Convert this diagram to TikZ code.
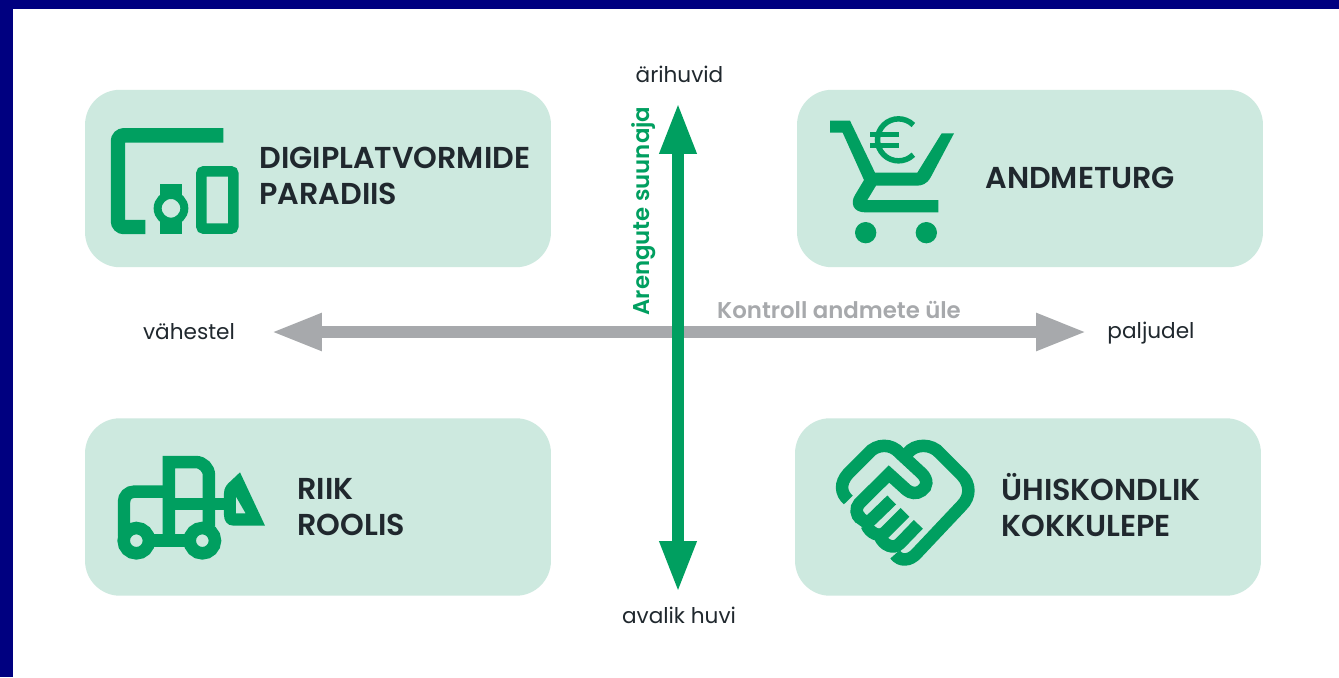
\documentclass[tikz,border=0pt]{standalone}
\usepackage{fontspec}
\setmainfont{Poppins}[BoldFont={Poppins SemiBold}]
\usetikzlibrary{arrows.meta}
\definecolor{framecol}{HTML}{000080}
\definecolor{panelcol}{HTML}{CDE9DF}
\definecolor{greencol}{HTML}{009F60}
\definecolor{greycol}{HTML}{A7A9AC}
\definecolor{inkcol}{HTML}{20282E}
\tikzset{
	panel/.style={fill=panelcol,rounded corners=0.7cm,minimum width=9.32cm,minimum height=3.55cm},
	title/.style={anchor=west,align=left,inner sep=0pt,text=inkcol,font=\fontsize{17.2}{20.5}\selectfont\bfseries},
	axislabel/.style={text=inkcol,font=\fontsize{12.3}{16}\selectfont},
	icon/.style={draw=greencol,line width=0.25cm},
	vaxis/.style={draw=greencol,line width=0.225cm,{Triangle[length=1.02cm,width=0.69cm]}-{Triangle[length=1.02cm,width=0.69cm]}},
	haxis/.style={draw=greycol,line width=0.245cm,{Triangle[length=1.02cm,width=0.69cm]}-{Triangle[length=1.02cm,width=0.69cm]}}
}
\begin{document}
\begin{tikzpicture}[x=0.02cm,y=-0.02cm]
	\useasboundingbox (0,0) rectangle (1339,677);
	\fill[framecol] (0,0) rectangle (1339,677);
	\fill[white] (13,9) rectangle (1339,677);

	\node[panel] (boxa) at (318,178.5) {};
	\node[panel] (boxb) at (1030,178.5) {};
	\node[panel] (boxc) at (318,507) {};
	\node[panel] (boxd) at (1028,507) {};

	\node[title] (titlea) at (259,176) {DIGIPLATVORMIDE\\PARADIIS};
	\node[title] (titleb) at (985,178) {ANDMETURG};
	\node[title] (titlec) at (297,507) {RIIK\\ROOLIS};
	\node[title] (titled) at (1001,505) {ÜHISKONDLIK\\KOKKULEPE};

	\node[axislabel] (top) at (679.5,74) {ärihuvid};
	\node[axislabel] (bottom) at (679,615) {avalik huvi};
	\node[axislabel] (left) at (189,332) {vähestel};
	\node[axislabel] (right) at (1151,333) {paljudel};

	\coordinate (hleft) at (271,332);
	\coordinate (hright) at (1087,332);
	\coordinate (vtop) at (678,103);
	\coordinate (vbottom) at (678,592);
	\draw[haxis] (hleft) -- (hright);
	\draw[vaxis] (vtop) -- (vbottom);

	\node[text=greycol,font=\fontsize{13}{16}\selectfont\bfseries] (hname) at (839,310) {Kontroll andmete üle};
	\node[text=greencol,rotate=90,font=\fontsize{13}{16}\selectfont\bfseries] (vname) at (644,211) {Arengute suunaja};

	% devices
	\begin{scope}[shift={(90,100)},x=0.00667cm,y=-0.00667cm]
		\draw[icon,line width=0.29cm,rounded corners=0.12cm] (400,106) -- (84,106) -- (84,381) -- (166,381);
		\fill[greencol] (211,253) rectangle (275,402);
		\draw[draw=greencol,fill=panelcol,line width=0.16cm] (243,325) circle (40);
		\draw[draw=greencol,line width=0.21cm,rounded corners=0.05cm] (334,214) rectangle (430,386);
	\end{scope}

	% cart
	\begin{scope}[shift={(810,100)},x=0.00667cm,y=-0.00667cm]
		\fill[greencol] (60,62) -- (120,62) -- (195,218) -- (322,218) -- (395,100) -- (432,100) -- (362,232) .. controls (350,253) and (335,257) .. (320,257) -- (198,257) -- (172,300) -- (385,300) -- (385,337) -- (165,337) .. controls (130,337) and (120,310) .. (135,285) -- (162,240) -- (98,98) -- (60,98) -- cycle;
		\fill[greencol] (167,398) circle (32) (349,398) circle (32);
		\draw[draw=greencol,line width=0.11cm] (310,75) arc (-45:-315:63);
		\draw[draw=greencol,line width=0.1cm] (180,103) -- (268,103) (180,135) -- (268,135);
	\end{scope}

	% truck
	\begin{scope}[shift={(100,440)},x=0.00667cm,y=-0.00667cm]
		\draw[icon] (207,300) -- (207,66) [rounded corners=0.27cm] -- (327,66) -- (327,260);
		\draw[icon,rounded corners=0.2cm] (207,155) -- (72,155) -- (72,290);
		\draw[icon] (207,192) -- (385,192) (110,301) -- (307,301);
		\draw[draw=greencol,fill=panelcol,line width=0.25cm] (109,302) circle (38) (307,302) circle (38);
		\fill[greencol,even odd rule] (420,97) -- (495,257) -- (400,257) .. controls (380,257) and (372,240) .. (372,225) -- (372,160) .. controls (372,145) and (380,135) .. (385,130) -- cycle (408,170) -- (437,220) -- (408,220) -- cycle;
	\end{scope}

	% handshake
	\begin{scope}[shift={(820,425)},x=0.00667cm,y=-0.00667cm]
		\draw[icon] (85,225) .. controls (62,205) and (58,175) .. (85,145) -- (145,85) .. controls (170,55) and (215,55) .. (240,85) -- (305,145) .. controls (325,165) and (322,185) .. (305,197) .. controls (290,208) and (272,205) .. (260,195) -- (207,147) -- (118,235) .. controls (105,250) and (108,270) .. (122,282);
		\draw[icon] (262,85) .. controls (285,55) and (335,55) .. (360,85) -- (425,150) .. controls (452,178) and (452,215) .. (425,242) -- (290,385) .. controls (270,408) and (240,410) .. (225,388);
		\draw[icon] (215,225) -- (155,283) .. controls (140,297) and (122,285) .. (115,270);
		\draw[icon] (255,262) -- (195,322) .. controls (178,338) and (150,325) .. (140,300);
		\draw[icon] (295,298) -- (240,355) .. controls (220,375) and (190,360) .. (180,335);
	\end{scope}
\end{tikzpicture}
\end{document}
